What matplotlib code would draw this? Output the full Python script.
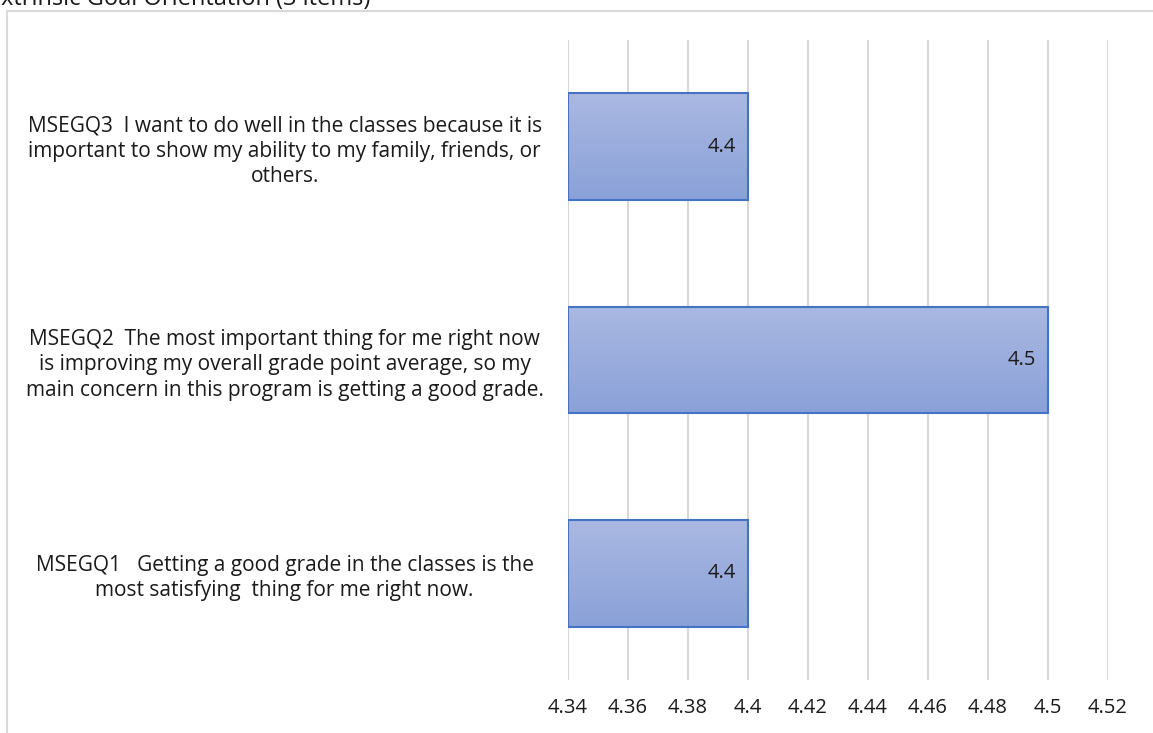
import matplotlib.pyplot as plt
import numpy as np
from matplotlib.patches import Rectangle

categories = [
    "MSEGQ1   Getting a good grade in the classes is the\nmost satisfying  thing for me right now.",
    "MSEGQ2  The most important thing for me right now\nis improving my overall grade point average, so my\nmain concern in this program is getting a good grade.",
    "MSEGQ3  I want to do well in the classes because it is\nimportant to show my ability to my family, friends, or\nothers.",
]
values = [4.4, 4.5, 4.4]
value_labels = ["4.4", "4.5", "4.4"]
xticks = [4.34, 4.36, 4.38, 4.4, 4.42, 4.44, 4.46, 4.48, 4.5, 4.52]
xtick_labels = ["4.34", "4.36", "4.38", "4.4", "4.42", "4.44", "4.46", "4.48", "4.5", "4.52"]
title = "Extrinsic Goal Orientation (3 items)"

plt.rcParams['font.family'] = ['Open Sans', 'DejaVu Sans']
txt = '#1a1a1a'

W, H = 1153, 733
fig = plt.figure(figsize=(W / 100, H / 100), dpi=100)
fig.patch.set_facecolor('white')

# chart border (cut off on right and bottom)
fig.patches.append(Rectangle((7 / W, -0.1), 1.2, (H - 11) / H + 0.1, transform=fig.transFigure,
                             fill=False, edgecolor='#D9D9D9', linewidth=1.5))

# title, mostly cut off at the top
fig.text(-12 / W, (H - 5) / H, title, fontsize=17, color=txt, ha='left', va='baseline')

ax = fig.add_axes([568 / W, 53 / H, 540 / W, 640 / H])

y = np.arange(len(categories))
bar_h = 0.5
grad = np.linspace(0, 1, 100).reshape(-1, 1)
cmap = plt.matplotlib.colors.LinearSegmentedColormap.from_list('g', ['#8AA1D8', '#AAB8E2'])

for yi, v, lab in zip(y, values, value_labels):
    ax.imshow(grad, extent=[4.34, v, yi - bar_h / 2, yi + bar_h / 2], origin='lower',
              aspect='auto', cmap=cmap, zorder=2)
    ax.add_patch(Rectangle((4.34, yi - bar_h / 2), v - 4.34, bar_h, fill=False,
                           edgecolor='#4472C4', linewidth=1.5, zorder=3))
    ax.annotate(lab, (v, yi), xytext=(-9, 0), textcoords='offset points', ha='right',
                va='center', fontsize=14.5, color=txt, zorder=4)

ax.set_xlim(4.34, 4.52)
ax.set_ylim(-0.5, 2.5)
ax.set_xticks(xticks)
ax.set_xticklabels(xtick_labels, fontsize=14.5, color=txt)
ax.set_yticks(y)
ax.set_yticklabels(categories, fontsize=15, color=txt, ha='center', linespacing=1.28)
ax.tick_params(axis='y', length=0, pad=204)
ax.tick_params(axis='x', length=0, pad=13)
ax.grid(axis='x', color='#D9D9D9', linewidth=1.5, zorder=0)
ax.set_axisbelow(True)
for s in ax.spines.values():
    s.set_visible(False)

fig.savefig('out.png', dpi=100, facecolor='white')
